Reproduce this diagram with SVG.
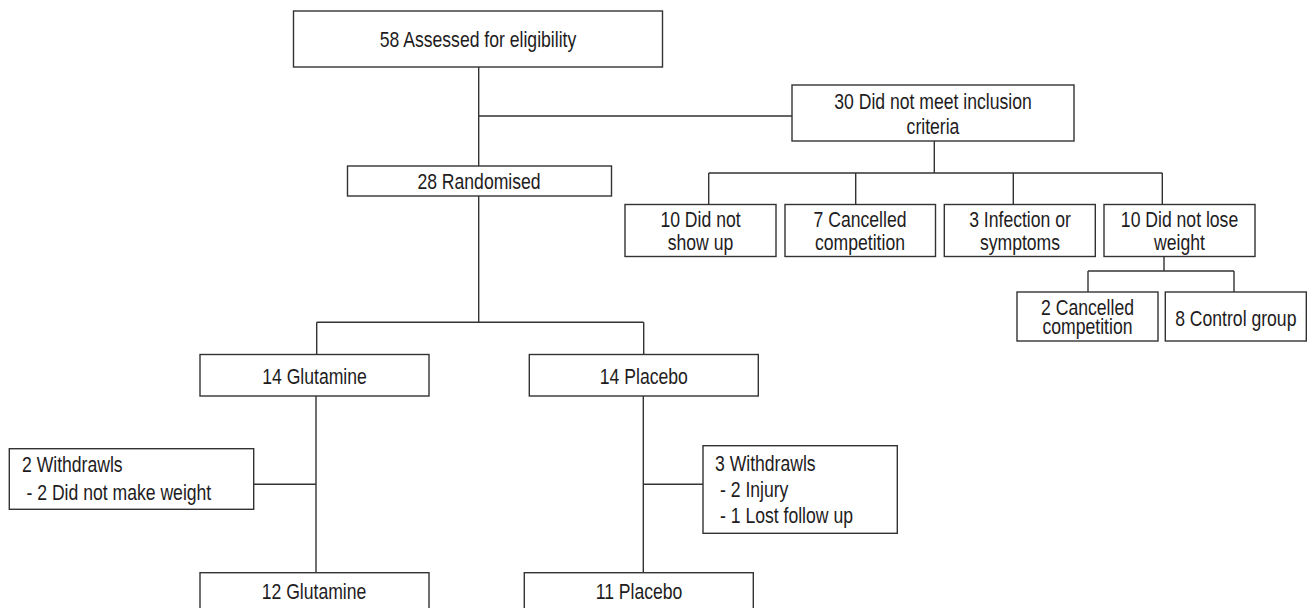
<svg xmlns="http://www.w3.org/2000/svg" width="1307" height="608" viewBox="0 0 1307 608">
<style>
  .box { fill: #ffffff; stroke: #333333; stroke-width: 1.4; }
  .ln { fill: none; stroke: #333333; stroke-width: 1.4; }
  text { font-family: "Liberation Sans", Arial, sans-serif; font-size: 22px; fill: #1e1c1d; }
  .c { text-anchor: middle; }
</style>
<rect x="0" y="0" width="1307" height="608" fill="#ffffff"/>
<g id="connectors">
  <path class="ln" d="M478.7,67 V166 M478.7,116 H792"/>
  <path class="ln" d="M934.3,141 V173 M708.7,173 H1162.3 M708.7,173 V204.5 M855.7,173 V204.5 M1013.3,173 V204.5 M1162.3,173 V204.5"/>
  <path class="ln" d="M1164,256.5 V271 M1088,271 H1234 M1088,271 V292 M1234,271 V292"/>
  <path class="ln" d="M478.7,196 V322.3 M316.7,322.3 H643.7 M316.7,322.3 V354.5 M643.7,322.3 V354.5"/>
  <path class="ln" d="M316,396 V572.7 M254,484.3 H316"/>
  <path class="ln" d="M643.3,396 V572.7 M643.3,484.3 H703"/>
</g>
<g id="assessed">
  <rect class="box" x="293.5" y="11" width="369" height="56"/>
  <text class="c" transform="matrix(0.8 0 0 1 478 47)">58 Assessed for eligibility</text>
</g>
<g id="excluded">
  <rect class="box" x="792" y="85" width="282" height="56"/>
  <text class="c" transform="matrix(0.8 0 0 1 933 109)">30 Did not meet inclusion</text>
  <text class="c" transform="matrix(0.8 0 0 1 933 133.5)">criteria</text>
</g>
<g id="randomised">
  <rect class="box" x="347.5" y="166" width="264" height="30"/>
  <text class="c" transform="matrix(0.8 0 0 1 479 188.5)">28 Randomised</text>
</g>
<g id="noshow">
  <rect class="box" x="625" y="204.5" width="151" height="52"/>
  <text class="c" transform="matrix(0.8 0 0 1 700.5 227)">10 Did not</text>
  <text class="c" transform="matrix(0.8 0 0 1 700.5 250)">show up</text>
</g>
<g id="cancelled">
  <rect class="box" x="785" y="204.5" width="150.5" height="52"/>
  <text class="c" transform="matrix(0.8 0 0 1 860 227)">7 Cancelled</text>
  <text class="c" transform="matrix(0.8 0 0 1 860 250)">competition</text>
</g>
<g id="infection">
  <rect class="box" x="944.3" y="204.5" width="151" height="52"/>
  <text class="c" transform="matrix(0.8 0 0 1 1020 227)">3 Infection or</text>
  <text class="c" transform="matrix(0.8 0 0 1 1020 250)">symptoms</text>
</g>
<g id="noloss">
  <rect class="box" x="1104" y="204.5" width="151" height="52"/>
  <text class="c" transform="matrix(0.8 0 0 1 1179.5 227)">10 Did not lose</text>
  <text class="c" transform="matrix(0.8 0 0 1 1179.5 250)">weight</text>
</g>
<g id="cancelled2">
  <rect class="box" x="1017" y="292" width="141" height="49"/>
  <text class="c" transform="matrix(0.8 0 0 1 1087.5 314.5)">2 Cancelled</text>
  <text class="c" transform="matrix(0.8 0 0 1 1087.5 333.5)">competition</text>
</g>
<g id="control">
  <rect class="box" x="1165.3" y="292" width="141" height="49"/>
  <text class="c" transform="matrix(0.8 0 0 1 1235.8 325.5)">8 Control group</text>
</g>
<g id="glutamine14">
  <rect class="box" x="200" y="354.5" width="229" height="41.5"/>
  <text class="c" transform="matrix(0.8 0 0 1 314.5 383.5)">14 Glutamine</text>
</g>
<g id="placebo14">
  <rect class="box" x="529.3" y="354.5" width="229" height="41.5"/>
  <text class="c" transform="matrix(0.8 0 0 1 643.8 383.5)">14 Placebo</text>
</g>
<g id="withdraw-glutamine">
  <rect class="box" x="9.3" y="448.7" width="244.4" height="60.6"/>
  <text transform="matrix(0.8 0 0 1 22 472)">2 Withdrawls</text>
  <text transform="matrix(0.8 0 0 1 26.5 499.5)">- 2 Did not make weight</text>
</g>
<g id="withdraw-placebo">
  <rect class="box" x="703" y="445.7" width="194.3" height="87.6"/>
  <text transform="matrix(0.8 0 0 1 715 471)">3 Withdrawls</text>
  <text transform="matrix(0.8 0 0 1 720 497)">- 2 Injury</text>
  <text transform="matrix(0.8 0 0 1 720 523)">- 1 Lost follow up</text>
</g>
<g id="glutamine12">
  <rect class="box" x="200" y="572.7" width="229" height="45"/>
  <text class="c" transform="matrix(0.8 0 0 1 314 598.5)">12 Glutamine</text>
</g>
<g id="placebo11">
  <rect class="box" x="524.3" y="572.7" width="229" height="45"/>
  <text class="c" transform="matrix(0.8 0 0 1 639 598.5)">11 Placebo</text>
</g>
</svg>
